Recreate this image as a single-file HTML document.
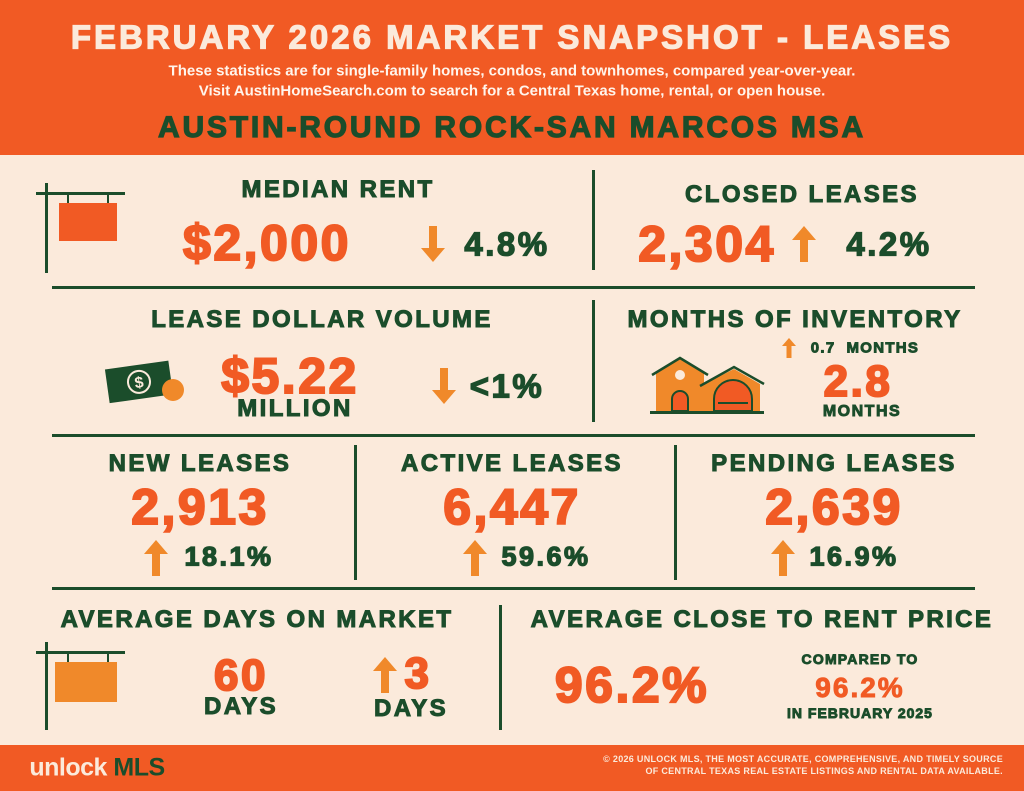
<!DOCTYPE html>
<html><head><meta charset="utf-8"><style>
*{margin:0;padding:0;box-sizing:border-box}
body{width:1024px;height:791px;position:relative;overflow:hidden;background:#FBEADB;font-family:"Liberation Sans",sans-serif;font-weight:bold}
.hdr{position:absolute;left:0;top:0;width:1024px;height:155px;background:#F15A24}
.ftr{position:absolute;left:0;top:745px;width:1024px;height:46px;background:#F15A24}
.t{position:absolute;white-space:nowrap;transform:translate(-50%,-50%);line-height:1}
.g{color:#1B4D2B}.o{color:#F15A24}
.s{-webkit-text-stroke:0.9px currentColor}
.h{font-size:24px;letter-spacing:2.4px;font-weight:900;color:#1B4D2B;-webkit-text-stroke:1px #1B4D2B}
.big{font-size:50px;letter-spacing:2.5px;font-weight:900;color:#F15A24;-webkit-text-stroke:2px #F15A24}
.pct{font-size:33px;letter-spacing:2.5px;font-weight:900;color:#1B4D2B;-webkit-text-stroke:1.3px #1B4D2B}
.hl{position:absolute;height:3px;background:#1B4D2B}
.vl{position:absolute;width:3px;background:#1B4D2B}
svg{position:absolute}
</style></head><body>
<div class="hdr"></div>
<div class="t" style="left:512px;top:37px;font-size:33px;letter-spacing:3px;color:#FBEADB;font-weight:900;-webkit-text-stroke:1.2px #FBEADB">FEBRUARY 2026 MARKET SNAPSHOT - LEASES</div>
<div class="t" style="left:512px;top:71px;font-size:15px;color:#FFF5EC">These statistics are for single-family homes, condos, and townhomes, compared year-over-year.</div>
<div class="t" style="left:512px;top:91px;font-size:15px;color:#FFF5EC">Visit AustinHomeSearch.com to search for a Central Texas home, rental, or open house.</div>
<div class="t g" style="left:512px;top:128px;font-size:30px;letter-spacing:2.8px;font-weight:900;-webkit-text-stroke:1.2px #1B4D2B">AUSTIN-ROUND ROCK-SAN MARCOS MSA</div>

<div class="vl" style="left:592px;top:170px;height:100px"></div>
<div class="hl" style="left:52px;top:286px;width:923px"></div>
<div class="vl" style="left:592px;top:300px;height:122px"></div>
<div class="hl" style="left:52px;top:434px;width:923px"></div>
<div class="vl" style="left:354px;top:445px;height:135px"></div>
<div class="vl" style="left:674px;top:445px;height:135px"></div>
<div class="hl" style="left:52px;top:587px;width:923px"></div>
<div class="vl" style="left:499px;top:605px;height:125px"></div>

<svg style="left:35px;top:183px" width="95" height="92"><rect x="10" y="0" width="3" height="90" fill="#1B4D2B"/><rect x="1" y="9" width="89" height="3" fill="#1B4D2B"/><rect x="32" y="11" width="2" height="9" fill="#1B4D2B"/><rect x="72" y="11" width="2" height="9" fill="#1B4D2B"/><rect x="24" y="20" width="58" height="38" fill="#F15A24"/></svg>

<div class="t h" style="left:338px;top:190px">MEDIAN RENT</div>
<div class="t big" style="left:267px;top:243px">$2,000</div>
<svg style="left:420px;top:226px" width="26" height="36"><path d="M13 36 L1 22 L9 22 L9 0 L17 0 L17 22 L25 22 Z" fill="#F0892A"/></svg>
<div class="t pct" style="left:507px;top:244px">4.8%</div>

<div class="t h" style="left:802px;top:195px">CLOSED LEASES</div>
<div class="t big" style="left:707px;top:244px">2,304</div>
<svg style="left:791px;top:226px" width="26" height="36"><path d="M13 0 L1 14 L9 14 L9 36 L17 36 L17 14 L25 14 Z" fill="#F0892A"/></svg>
<div class="t pct" style="left:889px;top:244px">4.2%</div>

<svg style="left:103px;top:357px" width="82" height="50"><g transform="rotate(-8 35 25)"><rect x="4" y="8" width="64" height="34" fill="#1B4D2B"/><circle cx="36" cy="25" r="11" fill="none" stroke="#FBEADB" stroke-width="2"/><text x="36" y="31" font-size="16" fill="#FBEADB" text-anchor="middle" font-family="Liberation Sans" font-weight="bold">$</text></g><circle cx="70" cy="33" r="11" fill="#F0892A"/></svg>
<div class="t h" style="left:322px;top:320px">LEASE DOLLAR VOLUME</div>
<div class="t big" style="left:290px;top:376px">$5.22</div>
<div class="t h" style="left:295px;top:409px">MILLION</div>
<svg style="left:431px;top:368px" width="26" height="36"><path d="M13 36 L1 22 L9 22 L9 0 L17 0 L17 22 L25 22 Z" fill="#F0892A"/></svg>
<div class="t pct" style="left:507px;top:386px">&lt;1%</div>

<div class="t h" style="left:795px;top:320px">MONTHS OF INVENTORY</div>
<svg style="left:648px;top:353px" width="118" height="66"><path d="M8 58 V20 L32 6 L56 20 V58 Z" fill="#F0892A"/><path d="M4 22 L32 5 L60 22" fill="none" stroke="#1B4D2B" stroke-width="2.5"/><circle cx="32" cy="22" r="5" fill="#FBEADB"/><path d="M24 58 V46 a8 8 0 0 1 16 0 V58Z" fill="#F15A24" stroke="#1B4D2B" stroke-width="2"/><path d="M56 58 V31 L86 16 L112 31 V58 Z" fill="#F0892A"/><path d="M52 33 L86 14 L116 31" fill="none" stroke="#1B4D2B" stroke-width="2.5"/><path d="M66 58 V46 a19 19 0 0 1 38 0 V58Z" fill="#F15A24" stroke="#1B4D2B" stroke-width="2"/><rect x="70" y="49" width="30" height="2" fill="#1B4D2B"/><rect x="2" y="58" width="114" height="3" fill="#1B4D2B"/></svg>
<svg style="left:782px;top:338px" width="14" height="20"><path d="M7 0 L0 8 L4.5 8 L4.5 20 L9.5 20 L9.5 8 L14 8 Z" fill="#F0892A"/></svg>
<div class="t g s" style="left:865px;top:348px;font-size:15px;letter-spacing:1.3px;font-weight:900">0.7&nbsp; MONTHS</div>
<div class="t big" style="left:858px;top:382px;font-size:44px">2.8</div>
<div class="t g s" style="left:862px;top:412px;font-size:16px;letter-spacing:1.5px;font-weight:900">MONTHS</div>

<div class="t h" style="left:200px;top:464px">NEW LEASES</div>
<div class="t big" style="left:200px;top:507px">2,913</div>
<svg style="left:143px;top:540px" width="26" height="36"><path d="M13 0 L1 14 L9 14 L9 36 L17 36 L17 14 L25 14 Z" fill="#F0892A"/></svg>
<div class="t pct" style="left:229px;top:557px;font-size:27px">18.1%</div>

<div class="t h" style="left:512px;top:464px">ACTIVE LEASES</div>
<div class="t big" style="left:512px;top:507px">6,447</div>
<svg style="left:462px;top:540px" width="26" height="36"><path d="M13 0 L1 14 L9 14 L9 36 L17 36 L17 14 L25 14 Z" fill="#F0892A"/></svg>
<div class="t pct" style="left:546px;top:557px;font-size:27px">59.6%</div>

<div class="t h" style="left:834px;top:464px">PENDING LEASES</div>
<div class="t big" style="left:834px;top:507px">2,639</div>
<svg style="left:770px;top:540px" width="26" height="36"><path d="M13 0 L1 14 L9 14 L9 36 L17 36 L17 14 L25 14 Z" fill="#F0892A"/></svg>
<div class="t pct" style="left:854px;top:557px;font-size:27px">16.9%</div>

<div class="t h" style="left:257px;top:620px">AVERAGE DAYS ON MARKET</div>
<svg style="left:35px;top:642px" width="95" height="92"><rect x="10" y="0" width="3" height="88" fill="#1B4D2B"/><rect x="1" y="9" width="89" height="3" fill="#1B4D2B"/><rect x="32" y="11" width="2" height="9" fill="#1B4D2B"/><rect x="72" y="11" width="2" height="9" fill="#1B4D2B"/><rect x="20" y="20" width="62" height="40" fill="#F0892A"/></svg>
<div class="t big" style="left:241px;top:676px;font-size:44px">60</div>
<div class="t h" style="left:241px;top:707px">DAYS</div>
<svg style="left:372px;top:657px" width="26" height="36"><path d="M13 0 L1 14 L9 14 L9 36 L17 36 L17 14 L25 14 Z" fill="#F0892A"/></svg>
<div class="t big" style="left:418px;top:674px;font-size:44px">3</div>
<div class="t h" style="left:411px;top:709px">DAYS</div>

<div class="t h" style="left:762px;top:620px">AVERAGE CLOSE TO RENT PRICE</div>
<div class="t big" style="left:632px;top:685px">96.2%</div>
<div class="t g s" style="left:860px;top:659px;font-size:14px;letter-spacing:1.2px;font-weight:900">COMPARED TO</div>
<div class="t o s" style="left:860px;top:688px;font-size:28px;letter-spacing:2px;font-weight:900">96.2%</div>
<div class="t g s" style="left:860px;top:713px;font-size:14px;letter-spacing:1px;font-weight:900">IN FEBRUARY 2025</div>

<div class="ftr"></div>
<div class="t" style="left:97px;top:768px;font-size:25px;letter-spacing:-0.5px;color:#FBEADB">unlock <span style="color:#1B4D2B">MLS</span></div>
<div style="position:absolute;right:21px;top:753px;text-align:right;font-size:9px;line-height:12px;color:#FBEADB;letter-spacing:0.3px">© 2026 UNLOCK MLS, THE MOST ACCURATE, COMPREHENSIVE, AND TIMELY SOURCE<br>OF CENTRAL TEXAS REAL ESTATE LISTINGS AND RENTAL DATA AVAILABLE.</div>
</body></html>
